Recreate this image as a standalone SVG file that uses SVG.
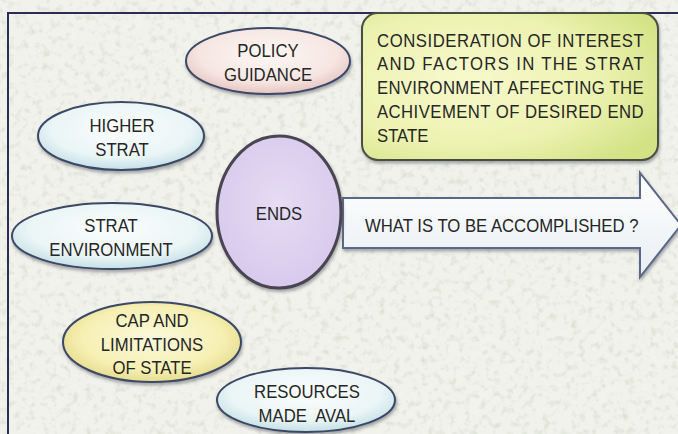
<svg xmlns="http://www.w3.org/2000/svg" width="678" height="434" viewBox="0 0 678 434">
  <style>
    .t { font-family: "Liberation Sans", Arial, sans-serif; font-size: 19px; fill: #262626; }
    .oval { stroke: #3a4866; stroke-width: 2; }
    .frame { fill: none; stroke: #2b2d55; stroke-width: 2; }
  </style>
  <defs>
    <filter id="grain" x="0" y="0" width="100%" height="100%">
      <feTurbulence type="fractalNoise" baseFrequency="0.14" numOctaves="3" seed="7"/>
      <feColorMatrix type="matrix" values="0 0 0 0 0.62  0 0 0 0 0.68  0 0 0 0 0.55  0 0 0 1.6 -0.8"/>
    </filter>
    <filter id="shadow" x="-20%" y="-20%" width="140%" height="150%">
      <feDropShadow dx="1" dy="2.5" stdDeviation="1.4" flood-color="#555a66" flood-opacity="0.5"/>
    </filter>
    <radialGradient id="pink" cx="50%" cy="40%" r="60%">
      <stop offset="0" stop-color="#fdf7f4"/>
      <stop offset="0.7" stop-color="#f6e6e2"/>
      <stop offset="1" stop-color="#e6c4c0"/>
    </radialGradient>
    <radialGradient id="cyan" cx="50%" cy="40%" r="60%">
      <stop offset="0" stop-color="#fbfdfd"/>
      <stop offset="0.7" stop-color="#eaf5f6"/>
      <stop offset="1" stop-color="#c4e0e6"/>
    </radialGradient>
    <radialGradient id="yellow" cx="50%" cy="45%" r="60%">
      <stop offset="0" stop-color="#fbf9dc"/>
      <stop offset="0.65" stop-color="#f6f0b4"/>
      <stop offset="1" stop-color="#e2d884"/>
    </radialGradient>
    <radialGradient id="lavender" cx="50%" cy="45%" r="60%">
      <stop offset="0" stop-color="#e6dcf4"/>
      <stop offset="1" stop-color="#d6c8ec"/>
    </radialGradient>
    <radialGradient id="lime" cx="35%" cy="45%" r="75%">
      <stop offset="0" stop-color="#f7f9cc"/>
      <stop offset="0.6" stop-color="#ecf2b0"/>
      <stop offset="1" stop-color="#d2e284"/>
    </radialGradient>
    <linearGradient id="pale" x1="0" y1="0" x2="0" y2="1">
      <stop offset="0" stop-color="#ffffff"/>
      <stop offset="1" stop-color="#e8eef3"/>
    </linearGradient>
  </defs>

  <!-- textured paper background -->
  <rect width="678" height="434" fill="#f2f2ec"/>
  <rect width="678" height="434" filter="url(#grain)"/>
  <rect class="frame" x="8" y="13" width="690" height="440"/>

  <g id="connectors">
    <g id="accomplished-arrow" filter="url(#shadow)">
      <polygon points="343,198 640,198 640,173 681,225 640,277 640,248 343,248" fill="url(#pale)" stroke="#5a6888" stroke-width="2"/>
    </g>
    <g transform="translate(365,0) scale(0.88,1)">
      <text class="t" x="0" y="232">WHAT IS TO BE ACCOMPLISHED ?</text>
    </g>
  </g>

  <g id="policy-guidance">
    <ellipse class="oval" cx="268" cy="61" rx="82" ry="33" fill="url(#pink)" filter="url(#shadow)"/>
    <g transform="translate(268,0) scale(0.88,1)">
      <text class="t" x="0" y="57" text-anchor="middle">POLICY</text>
      <text class="t" x="0" y="81" text-anchor="middle">GUIDANCE</text>
    </g>
  </g>

  <g id="higher-strat">
    <ellipse class="oval" cx="121" cy="136" rx="83" ry="34" fill="url(#cyan)" filter="url(#shadow)"/>
    <g transform="translate(122,0) scale(0.88,1)">
      <text class="t" x="0" y="132" text-anchor="middle">HIGHER</text>
      <text class="t" x="0" y="156" text-anchor="middle">STRAT</text>
    </g>
  </g>

  <g id="strat-environment">
    <ellipse class="oval" cx="112" cy="236" rx="100" ry="33" fill="url(#cyan)" filter="url(#shadow)"/>
    <g transform="translate(111,0) scale(0.88,1)">
      <text class="t" x="0" y="232" text-anchor="middle">STRAT</text>
      <text class="t" x="0" y="256" text-anchor="middle">ENVIRONMENT</text>
    </g>
  </g>

  <g id="cap-limitations">
    <ellipse class="oval" cx="152" cy="342" rx="89" ry="40" fill="url(#yellow)" filter="url(#shadow)"/>
    <g transform="translate(152,0) scale(0.88,1)">
      <text class="t" x="0" y="327" text-anchor="middle">CAP AND</text>
      <text class="t" x="0" y="351" text-anchor="middle">LIMITATIONS</text>
      <text class="t" x="0" y="374" text-anchor="middle">OF STATE</text>
    </g>
  </g>

  <g id="resources">
    <ellipse class="oval" cx="306" cy="400" rx="89" ry="32" fill="url(#cyan)" filter="url(#shadow)"/>
    <g transform="translate(307,0) scale(0.88,1)">
      <text class="t" x="0" y="398" text-anchor="middle">RESOURCES</text>
      <text class="t" x="0" y="422" text-anchor="middle" xml:space="preserve">MADE  AVAL</text>
    </g>
  </g>

  <g id="ends">
    <ellipse cx="279" cy="212" rx="62" ry="76" fill="url(#lavender)" stroke="#4a4452" stroke-width="3" filter="url(#shadow)"/>
    <g transform="translate(279,0) scale(0.88,1)">
      <text class="t" x="0" y="220" text-anchor="middle">ENDS</text>
    </g>
  </g>

  <g id="consideration">
    <rect x="362" y="13" width="296" height="147" rx="16" fill="url(#lime)" stroke="#4a5040" stroke-width="2" filter="url(#shadow)"/>
    <g transform="translate(377,0) scale(0.88,1)">
      <text class="t" x="0" y="47" textLength="303" lengthAdjust="spacing">CONSIDERATION OF INTEREST</text>
      <text class="t" x="0" y="70" textLength="303" lengthAdjust="spacing">AND FACTORS IN THE STRAT</text>
      <text class="t" x="0" y="94" textLength="303" lengthAdjust="spacing">ENVIRONMENT AFFECTING THE</text>
      <text class="t" x="0" y="118" textLength="303" lengthAdjust="spacing">ACHIVEMENT OF DESIRED END</text>
      <text class="t" x="0" y="142">STATE</text>
    </g>
  </g>
</svg>
